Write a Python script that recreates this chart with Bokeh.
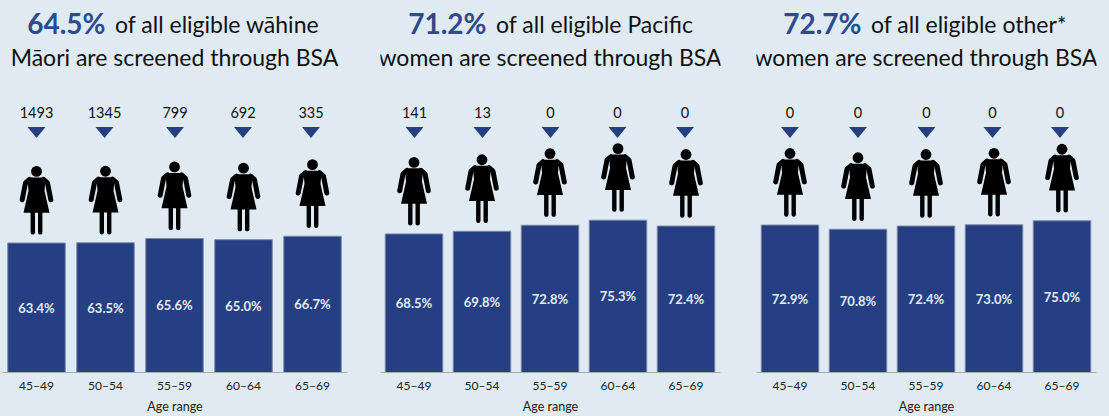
from bokeh.plotting import figure
from bokeh.layouts import row
from bokeh.models import Label, Range1d, FixedTicker
from bokeh.core.properties import value
from bokeh.embed import file_html
from bokeh.resources import INLINE

age_ranges = ["45–49", "50–54", "55–59", "60–64", "65–69"]

maori_pct = [63.4, 63.5, 65.6, 65.0, 66.7]
pacific_pct = [68.5, 69.8, 72.8, 75.3, 72.4]
other_pct = [72.9, 70.8, 72.4, 73.0, 75.0]

maori_counts = ["1493", "1345", "799", "692", "335"]
pacific_counts = ["141", "13", "0", "0", "0"]
other_counts = ["0", "0", "0", "0", "0"]

maori_head = ["64.5%", "of all eligible wāhine", "Māori are screened through BSA"]
pacific_head = ["71.2%", "of all eligible Pacific", "women are screened through BSA"]
other_head = ["72.7%", "of all eligible other*", "women are screened through BSA"]

BG = "#dfeaf3"
BLUE = "#263f83"
HEAD_BLUE = "#2d4a8e"
FONT = "Lato"
BASE = 373.3


def panel(vals, counts, head, width, left, right, step, k, shifts, head_x):
    frame_left = left
    nudge = 0.5 / step
    p = figure(width=width, height=416, output_backend="svg", toolbar_location=None,
               x_range=Range1d(-0.5 + nudge, 4.5 + nudge), y_range=Range1d(0, BASE / k),
               min_border_left=left, min_border_right=right,
               min_border_top=0, min_border_bottom=43)
    p.background_fill_color = BG
    p.border_fill_color = BG
    p.outline_line_color = None
    p.grid.visible = False
    p.yaxis.visible = False

    ax = p.xaxis[0]
    ax.ticker = FixedTicker(ticks=list(range(5)))
    ax.major_label_overrides = {i: a for i, a in enumerate(age_ranges)}
    ax.major_tick_line_color = None
    ax.major_tick_out = 0
    ax.major_tick_in = 0
    ax.minor_tick_line_color = None
    ax.minor_tick_out = 0
    ax.minor_tick_in = 0
    ax.axis_line_color = "#a3abb5"
    ax.axis_line_width = 1.2
    ax.major_label_text_font = FONT
    ax.major_label_text_font_size = "12px"
    ax.major_label_text_color = "#222222"
    ax.major_label_standoff = 5
    ax.axis_label = "Age range"
    ax.axis_label_text_font = FONT
    ax.axis_label_text_font_size = "12.5px"
    ax.axis_label_text_font_style = "normal"
    ax.axis_label_text_color = "#222222"
    ax.axis_label_standoff = 3
    ax.axis_label_text_baseline = "middle"

    xs = list(range(5))
    px = lambda d: d / step          # horizontal pixels to x units
    py = lambda d: d / k             # vertical pixels to y units
    yp = lambda y: (BASE - y) / k    # page row to y value

    # bars and their percentages
    p.vbar(x=xs, top=vals, bottom=0, width=57.5 / step, fill_color=BLUE,
           line_color="#7c88a6", line_width=1)
    p.text(x=xs, y=[v / 2 for v in vals], text=[f"{v:.1f}%" for v in vals],
           text_font=value(FONT), text_font_style="bold", text_font_size="13px",
           text_color="#e4ebf3", text_align="center", text_baseline="middle")

    # counts and pointers
    cx = [i + px(s) for i, s in zip(xs, shifts)]
    p.text(x=cx, y=[yp(112)] * 5, text=counts, text_font=value(FONT),
           text_font_size="14.5px", text_color="#111111", text_align="center",
           text_baseline="middle")
    p.patches(xs=[[c - px(9), c + px(9), c] for c in cx],
              ys=[[yp(127), yp(127), yp(138)] for _ in cx],
              fill_color=BLUE, line_color=None)

    # figures standing on each bar
    for i, v in zip(xs, vals):
        feet = v + py(8.3)
        X = lambda d: i + px(d)
        Y = lambda h: feet + py(h)
        p.scatter([X(0)], [Y(63.5)], size=10.8, color="black", line_color=None)
        dress = [(-5, 57.5), (5, 57.5), (9, 56), (8, 44), (13, 22), (-13, 22), (-8, 44), (-9, 56)]
        p.patch([X(a) for a, _ in dress], [Y(b) for _, b in dress], color="black", line_color=None)
        for s in (-1, 1):
            p.line([X(s * 7), X(s * 11), X(s * 14.3)], [Y(55.5), Y(52), Y(35)],
                   line_color="black", line_width=5, line_cap="round", line_join="round")
            p.line([X(s * 3.7), X(s * 3.7)], [Y(2.3), Y(23)],
                   line_color="black", line_width=4.4, line_cap="round")

    # heading, two lines
    big, rest, second = head
    for txt, x, align, size, style, colour, row_y in [
        (big, head_x[0], "right", "28px", "bold", HEAD_BLUE, 23),
        (rest, head_x[0] + 9.5, "left", "23px", "normal", "#111111", 24),
        (second, head_x[1], "center", "23px", "normal", "#111111", 57),
    ]:
        p.add_layout(Label(x=(x - frame_left) / step - 0.5 + nudge, y=yp(row_y), text=txt,
                           text_font=FONT, text_font_size=size, text_font_style=style,
                           text_color=colour, text_align=align, text_baseline="middle"))
    return p


p1 = panel(maori_pct, maori_counts, maori_head, 365, 2, 18, 69, 2.05,
           [0, -1, 0.5, -0.5, -1.5], (105, 174))
p2 = panel(pacific_pct, pacific_counts, pacific_head, 376, 15, 21, 68, 2.03,
           [0.5, 0.5, 0.5, -0.5, -1], (121, 184.5))
p3 = panel(other_pct, other_counts, other_head, 368, 15, 13, 68, 2.03,
           [0, 0, 0.5, -1.5, -2], (120, 184.5))

p = row(p1, p2, p3, spacing=0,
        styles={"position": "fixed", "left": "0", "top": "0", "background": BG})

open("out.html", "w").write(file_html(p, INLINE))
